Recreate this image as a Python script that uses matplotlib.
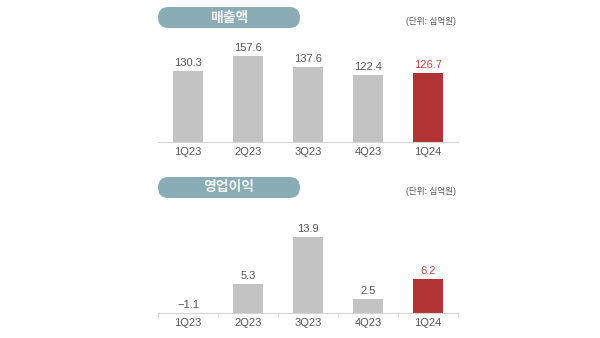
import matplotlib
matplotlib.use('Agg')
import matplotlib.pyplot as plt
from matplotlib.patches import FancyBboxPatch

plt.rcParams['font.family'] = ['Liberation Sans', 'Noto Sans CJK KR', 'DejaVu Sans']
plt.rcParams['axes.unicode_minus'] = False

quarters = ['1Q23', '2Q23', '3Q23', '4Q23', '1Q24']
revenue = [130.3, 157.6, 137.6, 122.4, 126.7]
op_profit = [-1.1, 5.3, 13.9, 2.5, 6.2]
labels_rev = ['130.3', '157.6', '137.6', '122.4', '126.7']
labels_op = ['\u22121.1', '5.3', '13.9', '2.5', '6.2']

gray = '#c3c3c3'
red = '#b23333'
red_txt = '#cf4545'
txt = '#555555'
pill_c = '#8aacb4'

fig = plt.figure(figsize=(6, 3.38), dpi=100)
fig.patch.set_facecolor('white')


def panel(rect, values, labels, ytop, title, pill_y, unit_y, ticks):
    ax = fig.add_axes(rect)
    x = list(range(len(values)))
    colors = [gray] * (len(values) - 1) + [red]
    ax.bar(x, values, width=0.5, color=colors)
    ax.set_xlim(-0.5, 4.5)
    ax.set_ylim(0, ytop)
    off = ytop * 0.03
    for i, (v, lab) in enumerate(zip(values, labels)):
        c = red_txt if i == len(values) - 1 else txt
        ax.text(i, max(v, 0) + off, lab, ha='center', va='bottom',
                fontsize=8, color=c)
    for s in ['top', 'right', 'left']:
        ax.spines[s].set_visible(False)
    ax.spines['bottom'].set_color('#d4d4d4')
    ax.spines['bottom'].set_linewidth(0.8)
    ax.set_yticks([])
    ax.set_xticks(x)
    ax.set_xticklabels(quarters, fontsize=8, color=txt)
    ax.tick_params(axis='x', length=0, pad=4)
    if ticks:
        ax.set_xticks([-0.5, 0.5, 1.5, 2.5, 3.5, 4.5], minor=True)
        ax.tick_params(axis='x', which='minor', length=3, color='#d4d4d4', width=0.6)
    # title pill
    pill = FancyBboxPatch((1.58, pill_y), 1.42, 0.21,
                          boxstyle='round,pad=0,rounding_size=0.105',
                          transform=fig.dpi_scale_trans, facecolor=pill_c,
                          edgecolor='none')
    fig.add_artist(pill)
    fig.text(2.29 / 6, (pill_y + 0.105) / 3.38, title, ha='center', va='center',
             fontsize=10, color='#f4f4f4', fontweight='bold')
    fig.text(456 / 600, unit_y, '(단위: 십억원)', ha='right', va='center',
             fontsize=6.2, color='#555555')
    return ax


panel([158 / 600, (338 - 141.7) / 338, 300 / 600, 101.7 / 338], revenue, labels_rev,
      186.6, '매출액', 3.10, (338 - 21.5) / 338, False)
panel([158 / 600, (338 - 312.7) / 338, 300 / 600, 102.7 / 338], op_profit, labels_op,
      18.8, '영업이익', 1.40, (338 - 191.5) / 338, True)

plt.savefig('out.png', dpi=100)
